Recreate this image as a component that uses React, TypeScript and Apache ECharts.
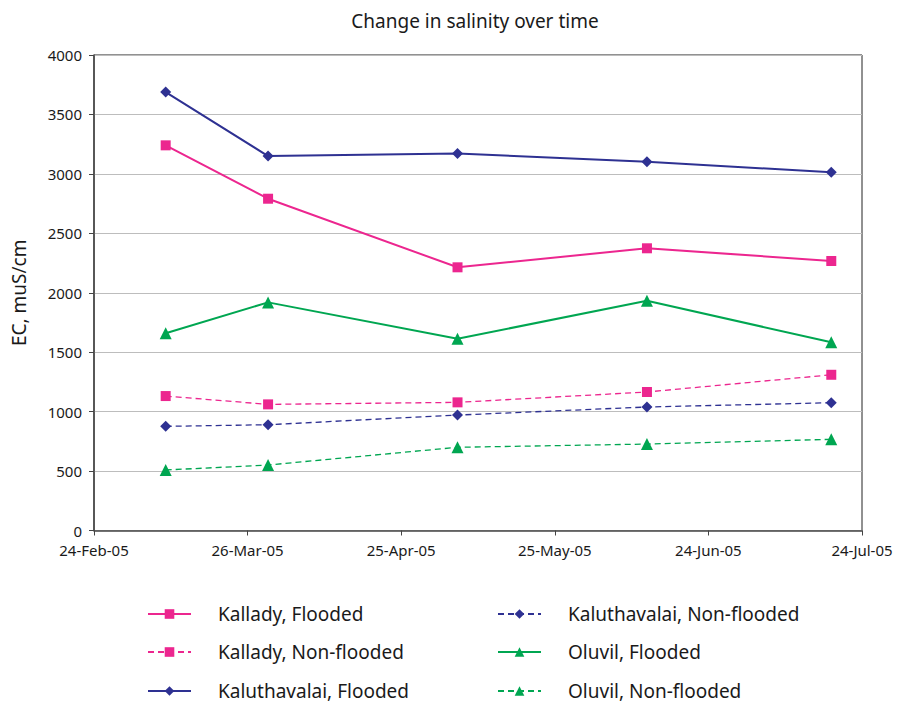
import React, { useEffect, useRef } from "react";
import * as echarts from "echarts";

const baseDate = "2005-02-24";
const sampleDates = ["2005-03-10", "2005-03-30", "2005-05-06", "2005-06-12", "2005-07-18"];
const yTicks = [0, 500, 1000, 1500, 2000, 2500, 3000, 3500, 4000];

const kalladyFlooded = [3240, 2791, 2214, 2374, 2267];
const kalladyNonFlooded = [1131, 1061, 1078, 1165, 1310];
const kaluthavalaiFlooded = [3688, 3150, 3172, 3102, 3013];
const kaluthavalaiNonFlooded = [876, 890, 971, 1039, 1075];
const oluvilFlooded = [1659, 1919, 1613, 1933, 1583];
const oluvilNonFlooded = [509, 551, 700, 727, 767];

const seriesNames = [
  "Kallady, Flooded",
  "Kallady, Non-flooded",
  "Kaluthavalai, Flooded",
  "Kaluthavalai, Non-flooded",
  "Oluvil, Flooded",
  "Oluvil, Non-flooded",
];

const MONTHS = ["Jan", "Feb", "Mar", "Apr", "May", "Jun", "Jul", "Aug", "Sep", "Oct", "Nov", "Dec"];
const DAY = 86400000;
const baseMs = Date.parse(baseDate + "T00:00:00Z");
const dayOffset = (d: string) => Math.round((Date.parse(d + "T00:00:00Z") - baseMs) / DAY);
const fmtDate = (v: number) => {
  const d = new Date(baseMs + v * DAY);
  return `${d.getUTCDate()}-${MONTHS[d.getUTCMonth()]}-${String(d.getUTCFullYear()).slice(2)}`;
};

const PINK = "#EC268F";
const NAVY = "#2E3192";
const GREEN = "#00A651";
const FONT = "'Noto Sans', 'Open Sans', sans-serif";
const TXT = "#1a1a1a";

export default function App() {
  const ref = useRef<HTMLDivElement>(null);
  useEffect(() => {
    if (!ref.current) return;
    const chart = echarts.init(ref.current, undefined, { renderer: "svg" });
    const xs = sampleDates.map(dayOffset);
    const mk = (
      name: string,
      vals: number[],
      color: string,
      symbol: string,
      size: number,
      dashed: boolean
    ) => ({
      name,
      type: "line",
      data: vals.map((v, i) => [xs[i], v]),
      symbol,
      symbolSize: size,
      showAllSymbol: true,
      itemStyle: { color },
      lineStyle: { color, width: dashed ? 1.3 : 2, type: dashed ? [6, 4] : "solid" },
      z: dashed ? 2 : 3,
    });
    const legendPos = [
      [147, 614],
      [147, 652],
      [147, 691],
      [497, 614],
      [497, 652],
      [497, 691],
    ];
    const legends = seriesNames.map((n, i) => ({
      orient: "horizontal",
      left: legendPos[i][0],
      top: legendPos[i][1] - 11,
      padding: 0,
      itemWidth: 43,
      itemHeight: 12,
      textStyle: {
        fontSize: 19,
        color: TXT,
        lineHeight: 22,
        padding: [0, 0, 0, 22],
        fontFamily: FONT,
      },
      data: [n],
    }));
    chart.setOption({
      animation: false,
      backgroundColor: "#fff",
      textStyle: { fontFamily: FONT },
      title: {
        text: "Change in salinity over time",
        left: 470,
        top: 6,
        textAlign: "center",
        textStyle: { fontFamily: FONT, fontSize: 19, fontWeight: "normal", color: TXT },
      },
      grid: {
        left: 94,
        right: 47,
        top: 55,
        bottom: 175.5,
        show: true,
        borderColor: "#222",
        borderWidth: 1,
      },
      xAxis: {
        type: "value",
        min: 0,
        max: 150,
        interval: 30,
        axisLine: { show: true, lineStyle: { color: "#444", width: 1.5 } },
        axisTick: { show: true, length: 5, lineStyle: { color: "#444" } },
        splitLine: { show: false },
        axisLabel: {
          formatter: (v: number) => fmtDate(v),
          fontSize: 15,
          color: TXT,
          margin: 12,
          fontFamily: FONT,
        },
      },
      yAxis: {
        type: "value",
        min: yTicks[0],
        max: yTicks[yTicks.length - 1],
        interval: yTicks[1] - yTicks[0],
        name: "EC, muS/cm",
        nameLocation: "middle",
        nameGap: 66,
        nameTextStyle: { fontSize: 19, color: TXT, fontFamily: FONT },
        axisLine: { show: true, lineStyle: { color: "#444", width: 1.5 } },
        axisTick: { show: true, length: 5, lineStyle: { color: "#444" } },
        splitLine: { show: true, lineStyle: { color: "#bdbdbd", width: 1 } },
        axisLabel: {
          formatter: (v: number) => String(v),
          fontSize: 15,
          color: TXT,
          margin: 12,
          fontFamily: FONT,
        },
      },
      legend: legends,
      series: [
        mk(seriesNames[0], kalladyFlooded, PINK, "rect", 10, false),
        mk(seriesNames[1], kalladyNonFlooded, PINK, "rect", 10, true),
        mk(seriesNames[2], kaluthavalaiFlooded, NAVY, "diamond", 11, false),
        mk(seriesNames[3], kaluthavalaiNonFlooded, NAVY, "diamond", 11, true),
        mk(seriesNames[4], oluvilFlooded, GREEN, "triangle", 12, false),
        mk(seriesNames[5], oluvilNonFlooded, GREEN, "triangle", 12, true),
      ],
    });
    return () => chart.dispose();
  }, []);
  return (
    <div
      ref={ref}
      style={{ position: "absolute", left: 0, top: 0, width: 909, height: 706 }}
    />
  );
}
